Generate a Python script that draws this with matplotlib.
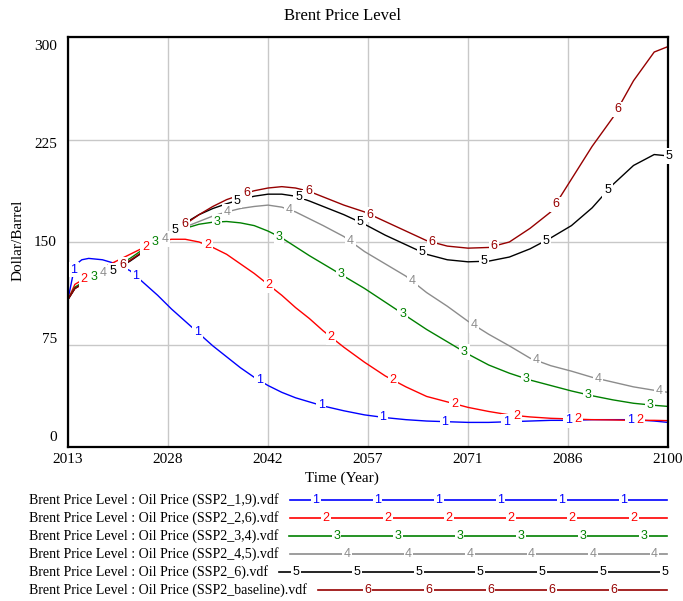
import numpy as np
import matplotlib
matplotlib.use("Agg")
import matplotlib.pyplot as plt
from matplotlib.transforms import ScaledTranslation, blended_transform_factory


# ===============================
# DATA
# ===============================

YEARS = [2013, 2014, 2015, 2016,
         2018, 2020, 2022, 2024, 2026, 2028, 2030, 2032, 2034, 2036,
         2038, 2040, 2042, 2044, 2046, 2048, 2050,
         2053, 2056, 2059, 2062, 2065, 2068, 2071, 2074, 2077, 2080,
         2083, 2086, 2089, 2092, 2095, 2098,
         2100]

ssp2_19 = [108, 133, 137, 138,
           137, 134, 129, 120, 111, 101, 92, 83, 74, 66,
           58, 51, 45, 40, 36, 33, 30,
           26.5, 23.5, 21.5, 20, 19, 18.5, 18, 18, 18.5, 19,
           19.5, 19.5, 20, 20, 20, 19,
           18]

ssp2_26 = [108, 119, 122, 125,
           131, 136, 141, 146, 150, 152, 152, 150, 146, 141,
           134, 127, 119, 111, 102, 94, 85,
           73, 62, 52, 44, 37, 33, 29, 26, 23.5, 22,
           21, 20.5, 20, 19.8, 19.5, 19.5,
           19.3]

ssp2_34 = [108, 117, 120, 123,
           127, 132, 138, 145, 151, 156, 160, 163, 164.5, 165,
           164, 162, 158, 153, 146.5, 140, 134,
           125, 116, 106, 96, 86, 77, 68, 60, 54, 49,
           45, 41, 37.5, 34.5, 32, 30.5,
           29.7]

ssp2_45 = [108, 116, 119, 122,
           127, 132, 137, 143, 149, 155, 161, 165, 169, 172,
           174.5, 176, 177, 175.5, 172, 167, 162,
           154, 143, 134, 125, 113, 103, 92, 82.5, 74, 65,
           59.5, 55.5, 51, 47.5, 44, 41.5,
           40]

ssp2_6 = [108, 116, 119, 122,
          126, 130, 136, 143, 150, 157, 164, 170, 174.5, 178,
          181, 183.5, 185, 185, 183.5, 180, 176,
          170, 163, 155, 148, 141, 137, 135.5, 136, 139, 145,
          153, 162, 175, 192, 206, 214,
          213]

ssp2_baseline = [108, 116, 119, 122,
                 126, 130.5, 136.5, 143.5, 151, 157, 163, 170, 176, 181,
                 184.5, 187.5, 189.5, 190.5, 189.5, 187, 183,
                 177, 172, 165, 158, 151, 147, 145.5, 146, 150, 160,
                 172, 196, 220, 241, 268, 289,
                 293]

SERIES = [ssp2_19, ssp2_26, ssp2_34, ssp2_45, ssp2_6, ssp2_baseline]
LEGEND_LABELS = [
    "Brent Price Level : Oil Price (SSP2_1,9).vdf",
    "Brent Price Level : Oil Price (SSP2_2,6).vdf",
    "Brent Price Level : Oil Price (SSP2_3,4).vdf",
    "Brent Price Level : Oil Price (SSP2_4,5).vdf",
    "Brent Price Level : Oil Price (SSP2_6).vdf",
    "Brent Price Level : Oil Price (SSP2_baseline).vdf",
]
COLORS = ["#0000ff", "#ff0000", "#008000", "#8c8c8c", "#000000", "#960000"]

YTICKS = [0, 75, 150, 225, 300]
XTICK_LABELS = ["2013", "2028", "2042", "2057", "2071", "2086", "2100"]


# ===============================
# FIGURE
# ===============================

plt.rcParams["font.family"] = ["Liberation Serif", "DejaVu Serif"]
W, H = 683, 601
fig = plt.figure(figsize=(W / 100, H / 100), dpi=100)

ax = fig.add_axes([68 / W, 1 - 447 / H, 600 / W, 410 / H], zorder=1)
ax.set_xlim(2013, 2100)
ax.set_ylim(0, 300)

LABEL_FONT = dict(family=["Liberation Sans", "DejaVu Sans"], fontsize=9)


def px_to_year(x_px):
    return 2013 + (x_px - 68) * 87 / 600


for k, (vals, color) in enumerate(zip(SERIES, COLORS)):
    ax.plot(YEARS, vals, color=color, lw=1.0, zorder=2)
    # number markers along the line, Vensim style
    n = 0
    while True:
        x_px = 74 + 9.8 * k + 61.8 * n
        if x_px > 670:
            break
        yr = px_to_year(x_px)
        yv = np.interp(yr, YEARS, vals)
        ax.text(yr, yv, str(k + 1), color=color, ha="center", va="center",
                bbox=dict(fc="white", ec="none", pad=1.3), clip_on=False,
                zorder=10 - k, **LABEL_FONT)
        n += 1

ax.set_xticks(np.linspace(2013, 2100, 7))
ax.set_xticklabels(XTICK_LABELS, fontsize=11)
ax.set_yticks(YTICKS)
ax.set_yticklabels([])
ax.tick_params(length=0)
ax.tick_params(axis="x", pad=4)
ax.grid(color="#c8c8c8", lw=1.0)
ax.set_axisbelow(True)
for sp in ax.spines.values():
    sp.set_linewidth(1.6)
    sp.set_color("black")

# y tick labels, spread like the original
ytrans = blended_transform_factory(ax.transAxes, ax.transData)
for i, v in enumerate(YTICKS):
    dy = (9.5 - 4.75 * i) / 100
    ax.text(-11 / 600, v, str(v), fontsize=11, ha="right", va="center",
            transform=ytrans + ScaledTranslation(0, dy, fig.dpi_scale_trans))

fig.text(343 / W, 1 - 16 / H, "Brent Price Level", fontsize=12,
         ha="center", va="center")
fig.text(18 / W, 1 - 240 / H, "Dollar/Barrel", fontsize=11, rotation=90,
         ha="center", va="center")
fig.text(342 / W, 1 - 478 / H, "Time (Year)", fontsize=11,
         ha="center", va="center")

# -------- LEGEND --------
lg = fig.add_axes([0, 0, 1, 1], zorder=0)
lg.set_xlim(0, W)
lg.set_ylim(H, 0)
lg.axis("off")

texts = []
for k, lab in enumerate(LEGEND_LABELS):
    texts.append(lg.text(29, 500 + 18 * k, lab, fontsize=10.1,
                         ha="left", va="center"))

fig.canvas.draw()
renderer = fig.canvas.get_renderer()
for k, (t, color) in enumerate(zip(texts, COLORS)):
    row_y = 500 + 18 * k
    x_start = t.get_window_extent(renderer).x1 + 11
    lg.plot([x_start, 667], [row_y, row_y], color=color, lw=1.2)
    for n in range(-1, 8):
        x_px = 316 + 10.3 * k + 61.5 * n
        if x_px < x_start + 6 or x_px > 667:
            continue
        lg.text(x_px, row_y, str(k + 1), color=color, ha="center",
                va="center", bbox=dict(fc="white", ec="none", pad=1.0),
                **LABEL_FONT)

fig.savefig("out.png", dpi=100)
